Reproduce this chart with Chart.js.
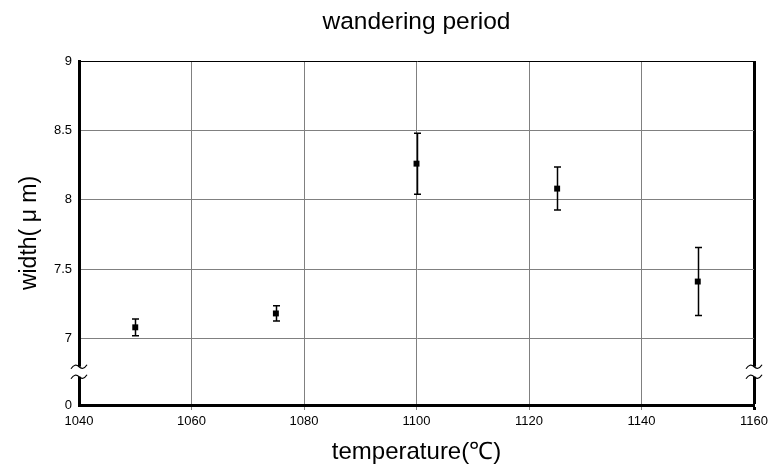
<!DOCTYPE html>
<html>
<head>
<meta charset="utf-8">
<script src="https://cdn.jsdelivr.net/npm/chart.js@4/dist/chart.umd.min.js"></script>
<style>
  html, body { margin: 0; padding: 0; background: #fff; }
</style>
</head>
<body>
<canvas id="chart" width="772" height="467"></canvas>
<script>
const temps = [1050, 1075, 1100, 1125, 1150];
const widths = [7.08, 7.18, 8.26, 8.08, 7.41];
const errs = [0.06, 0.055, 0.22, 0.155, 0.245];
const xTicks = [1040, 1060, 1080, 1100, 1120, 1140, 1160];
const yTicks = [7, 7.5, 8, 8.5, 9];
const yZero = 6.52; // spot where "0" sits, under the axis break
const chartTitle = "wandering period";

Chart.defaults.font.family = "'Liberation Sans', Arial, sans-serif";
Chart.defaults.color = "#000";

// error bars, drawn under the square markers
const errorBars = {
  id: "errorBars",
  beforeDatasetsDraw(chart) {
    const { ctx, scales: { x, y } } = chart;
    ctx.save();
    ctx.strokeStyle = "#000";
    ctx.lineWidth = 1.5;
    temps.forEach((t, i) => {
      const px = Math.round(x.getPixelForValue(t)) + 0.5;
      const top = y.getPixelForValue(widths[i] + errs[i]);
      const bot = y.getPixelForValue(widths[i] - errs[i]);
      ctx.beginPath();
      ctx.moveTo(px, top);
      ctx.lineTo(px, bot);
      ctx.moveTo(px - 3.5, top);
      ctx.lineTo(px + 3.5, top);
      ctx.moveTo(px - 3.5, bot);
      ctx.lineTo(px + 3.5, bot);
      ctx.stroke();
    });
    ctx.restore();
  },
};

// the "≈" break marks on both vertical axes + title centred over the plot
const axisBreak = {
  id: "axisBreak",
  afterDraw(chart) {
    const { ctx, chartArea, scales: { y } } = chart;
    const yc = y.getPixelForValue((7 + yZero) / 2);
    ctx.save();
    [chartArea.left, chartArea.right].forEach((ax) => {
      ctx.fillStyle = "#fff";
      ctx.fillRect(ax - 3, yc - 5, 6, 10);
      ctx.strokeStyle = "#000";
      ctx.lineWidth = 1.2;
      [yc - 5, yc + 5].forEach((wy) => {
        ctx.beginPath();
        ctx.moveTo(ax - 8, wy + 2);
        ctx.quadraticCurveTo(ax - 4, wy - 4, ax, wy);
        ctx.quadraticCurveTo(ax + 4, wy + 4, ax + 8, wy - 2);
        ctx.stroke();
      });
    });
    ctx.fillStyle = "#000";
    ctx.font = "24.5px 'Liberation Sans', Arial, sans-serif";
    ctx.textAlign = "center";
    ctx.textBaseline = "middle";
    ctx.fillText(chartTitle, (chartArea.left + chartArea.right) / 2, 22);
    ctx.restore();
  },
};

new Chart(document.getElementById("chart"), {
  type: "scatter",
  data: {
    datasets: [
      {
        data: temps.map((t, i) => ({ x: t, y: widths[i] })),
        pointStyle: "rect",
        pointRadius: 4.2,
        backgroundColor: "#000",
        borderColor: "#000",
        borderWidth: 0,
      },
    ],
  },
  options: {
    responsive: false,
    animation: false,
    devicePixelRatio: 1,
    layout: { padding: { left: 0, right: 17, top: 61, bottom: 0 } },
    plugins: {
      legend: { display: false },
      tooltip: { enabled: false },
      title: { display: false },
    },
    scales: {
      x: {
        type: "linear",
        min: 1040,
        max: 1160,
        afterBuildTicks: (axis) => {
          axis.ticks = xTicks.map((v) => ({ value: v }));
        },
        afterFit: (axis) => {
          axis.height = 62;
        },
        ticks: { font: { size: 13 }, color: "#000", padding: 4, callback: (v) => String(v) },
        grid: {
          tickLength: 5,
          color: (c) => (c.tick && c.tick.value === 1160 ? "#000" : c.tick && c.tick.value === 1040 ? "rgba(0,0,0,0)" : "#808080"),
          lineWidth: (c) => (c.tick && c.tick.value === 1160 ? 3 : 1),
        },
        border: { color: "#000", width: 3 },
        title: {
          display: true,
          text: "temperature(℃)",
          color: "#000",
          font: { size: 24 },
          padding: { top: 0, bottom: 0 },
        },
      },
      y: {
        type: "linear",
        min: yZero,
        max: 9,
        afterBuildTicks: (axis) => {
          axis.ticks = [yZero, ...yTicks].map((v) => ({ value: v }));
        },
        afterFit: (axis) => {
          axis.width = 79;
        },
        ticks: {
          font: { size: 13 },
          color: "#000",
          padding: 7,
          callback: (v) => (v === yZero ? "0" : String(v)),
        },
        grid: {
          drawTicks: false,
          color: (c) => (c.tick && c.tick.value === 9 ? "#000" : c.tick && c.tick.value === yZero ? "rgba(0,0,0,0)" : "#808080"),
          lineWidth: 1,
        },
        border: { color: "#000", width: 3 },
        title: {
          display: true,
          text: "width( μ m)",
          color: "#000",
          font: { size: 23 },
          padding: { top: 16, bottom: 0 },
        },
      },
    },
  },
  plugins: [errorBars, axisBreak],
});
</script>
</body>
</html>
